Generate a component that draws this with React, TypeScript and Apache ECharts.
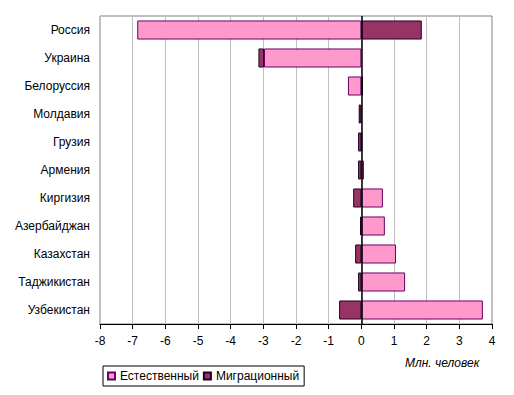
import React, { useEffect, useRef } from "react";
import * as echarts from "echarts";

const categories = [
  "Россия",
  "Украина",
  "Белоруссия",
  "Молдавия",
  "Грузия",
  "Армения",
  "Киргизия",
  "Азербайджан",
  "Казахстан",
  "Таджикистан",
  "Узбекистан",
];
const naturalValues = [-6.86, -2.98, -0.41, -0.02, 0.02, 0.08, 0.66, 0.72, 1.06, 1.34, 3.72];
const migrationValues = [1.85, -0.17, 0.05, -0.06, -0.1, -0.1, -0.25, -0.04, -0.19, -0.1, -0.68];
const seriesNames = ["Естественный", "Миграционный"];
const xMin = -8;
const xMax = 4;
const unitLabel = "Млн. человек";

const FONT = 'Arial, "Liberation Sans", sans-serif';

export default function App() {
  const ref = useRef<HTMLDivElement>(null);
  useEffect(() => {
    if (!ref.current) return;
    const chart = echarts.init(ref.current, undefined, { renderer: "svg" });
    chart.setOption({
      animation: false,
      backgroundColor: "#ffffff",
      textStyle: { fontFamily: FONT },
      grid: {
        left: 100,
        top: 16,
        width: 392,
        height: 308,
        show: true,
        borderColor: "#808080",
        borderWidth: 1,
        backgroundColor: "transparent",
        outerBoundsMode: "none",
      },
      xAxis: {
        type: "value",
        min: xMin,
        max: xMax,
        interval: 1,
        axisLine: { show: true, onZero: false, lineStyle: { color: "#000", width: 1 } },
        axisTick: { show: true, length: 5, lineStyle: { color: "#000" } },
        axisLabel: { color: "#000", fontSize: 12, fontFamily: FONT, margin: 11 },
        splitLine: { show: true, lineStyle: { color: "#c0c0c0", width: 1 } },
      },
      yAxis: {
        type: "category",
        data: categories,
        inverse: true,
        axisLine: { show: false, onZero: false },
        axisTick: { show: false },
        splitLine: { show: false },
        axisLabel: { color: "#000", fontSize: 12, fontFamily: FONT, margin: 10 },
      },
      legend: {
        left: 103,
        top: 366,
        data: seriesNames,
        orient: "horizontal",
        borderColor: "#000",
        borderWidth: 1,
        padding: [4, 5, 4, 4],
        itemWidth: 7,
        itemHeight: 7,
        itemGap: 4,
        icon: "rect",
        textStyle: { color: "#000", fontSize: 12, fontFamily: FONT },
      },
      graphic: [
        {
          type: "text",
          left: 405,
          top: 357,
          style: {
            text: unitLabel,
            fontSize: 12,
            fontStyle: "italic",
            fontFamily: FONT,
            fill: "#000",
          },
        },
      ],
      series: [
        {
          name: seriesNames[0],
          type: "bar",
          stack: "total",
          data: naturalValues,
          barCategoryGap: "32%",
          itemStyle: { color: "#ff99cc", borderColor: "#660066", borderWidth: 1 },
          markLine: {
            silent: true,
            symbol: "none",
            label: { show: false },
            lineStyle: { color: "#000", width: 1.5, type: "solid" },
            data: [{ xAxis: 0 }],
            z: 10,
          },
        },
        {
          name: seriesNames[1],
          type: "bar",
          stack: "total",
          data: migrationValues,
          barCategoryGap: "32%",
          itemStyle: { color: "#993366", borderColor: "#220022", borderWidth: 1 },
        },
      ],
    });
    return () => chart.dispose();
  }, []);
  return (
    <div
      ref={ref}
      style={{ position: "fixed", left: 0, top: 0, width: 514, height: 395, background: "#fff" }}
    />
  );
}
